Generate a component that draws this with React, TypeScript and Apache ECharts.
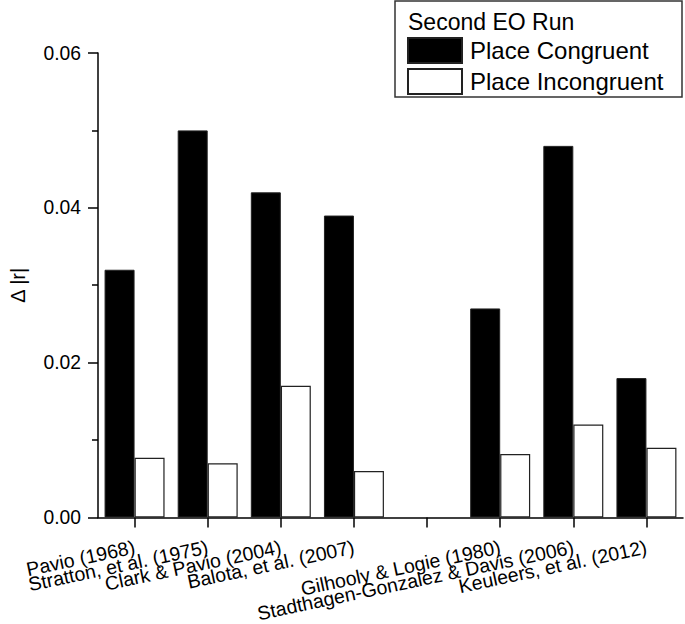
import React, { useEffect, useRef } from "react";
import * as echarts from "echarts";

const categories = [
  "Pavio (1968)",
  "Stratton, et al. (1975)",
  "Clark & Pavio (2004)",
  "Balota, et al. (2007)",
  "",
  "Gilhooly & Logie (1980)",
  "Stadthagen-Gonzalez & Davis (2006)",
  "Keuleers, et al. (2012)",
];
const placeCongruent = [0.032, 0.05, 0.042, 0.039, null, 0.027, 0.048, 0.018];
const placeIncongruent = [0.0077, 0.007, 0.017, 0.006, null, 0.0082, 0.012, 0.009];
const seriesNames = ["Place Congruent", "Place Incongruent"];
const legendTitle = "Second EO Run";
const yAxisName = "\u0394 |r|";

const FONT = "'Liberation Sans', Arial, sans-serif";

export default function App() {
  const ref = useRef<HTMLDivElement>(null);
  useEffect(() => {
    if (!ref.current) return;
    const chart = echarts.init(ref.current, null, { renderer: "svg" });
    chart.setOption({
      animation: false,
      backgroundColor: "#fff",
      textStyle: { fontFamily: FONT },
      grid: { left: 95, right: 2, top: 53, bottom: 106, containLabel: false },
      legend: {
        orient: "vertical",
        left: 407,
        top: 37,
        padding: 0,
        itemWidth: 54,
        itemHeight: 25,
        itemGap: 4,
        icon: "rect",
        data: seriesNames,
        textStyle: { fontSize: 24, color: "#000", fontFamily: FONT, padding: [0, 0, 0, 3] },
        selectedMode: false,
      },
      graphic: [
        {
          type: "rect",
          shape: { x: 395, y: 1, width: 287, height: 96 },
          style: { fill: "none", stroke: "#333", lineWidth: 1.5 },
          z: 10,
        },
        {
          type: "text",
          x: 408,
          y: 22,
          style: {
            text: legendTitle,
            fontSize: 23,
            fontFamily: FONT,
            fill: "#000",
            verticalAlign: "middle",
          },
          z: 10,
        },
      ],
      xAxis: {
        type: "category",
        data: categories,
        axisLine: { show: true, lineStyle: { color: "#000", width: 1.5 } },
        axisTick: { show: true, alignWithLabel: true, length: 10, lineStyle: { color: "#000", width: 1.5 } },
        axisLabel: {
          interval: 0,
          rotate: 12,
          fontSize: 19.5,
          color: "#000",
          margin: 29,
          fontFamily: FONT,
        },
      },
      yAxis: {
        type: "value",
        min: 0,
        max: 0.06,
        interval: 0.02,
        name: yAxisName,
        nameLocation: "middle",
        nameGap: 70,
        nameTextStyle: { fontSize: 20, color: "#000", fontFamily: FONT },
        axisLine: { show: true, lineStyle: { color: "#000", width: 1.5 } },
        axisTick: { show: true, length: 10, lineStyle: { color: "#000", width: 1.5 } },
        minorTick: { show: true, splitNumber: 2, length: 6, lineStyle: { color: "#000", width: 1.5 } },
        splitLine: { show: false },
        axisLabel: {
          fontSize: 19.3,
          color: "#000",
          margin: 17,
          fontFamily: FONT,
          formatter: (v: number) => v.toFixed(2),
        },
      },
      series: [
        {
          name: seriesNames[0],
          type: "bar",
          data: placeCongruent,
          barWidth: 30,
          barGap: "0%",
          itemStyle: { color: "#000", borderColor: "#222", borderWidth: 1 },
        },
        {
          name: seriesNames[1],
          type: "bar",
          data: placeIncongruent,
          barWidth: 30,
          barGap: "0%",
          itemStyle: { color: "#fff", borderColor: "#222", borderWidth: 1.2 },
        },
      ],
    });
    return () => chart.dispose();
  }, []);
  return <div ref={ref} style={{ position: "absolute", left: 0, top: 0, width: 685, height: 624 }} />;
}
